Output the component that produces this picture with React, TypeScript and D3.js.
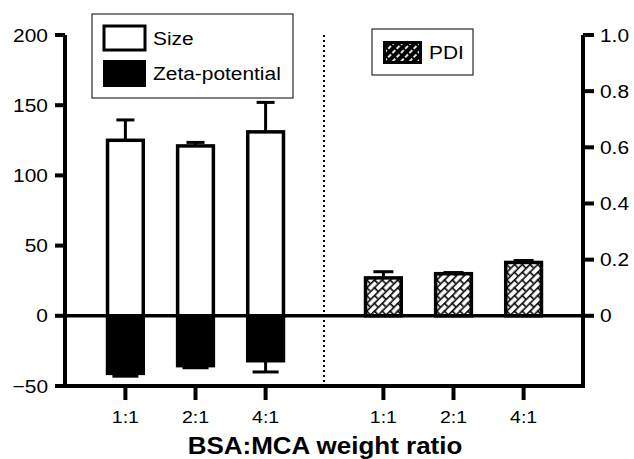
import React from "react";
import * as d3 from "d3";

const categories = ["1:1", "2:1", "4:1"];
const sizeValues = [125, 121, 131];
const sizeErr = [14.5, 2.5, 21];
const zetaValues = [-41, -35.5, -32];
const zetaErr = [2, 1.5, 8];
const pdiValues = [0.135, 0.15, 0.19];
const pdiErr = [0.022, 0.004, 0.007];
const leftTicks = [-50, 0, 50, 100, 150, 200];
const rightTicks = [0, 0.2, 0.4, 0.6, 0.8, 1.0];
const rightTickLabels = ["0", "0.2", "0.4", "0.6", "0.8", "1.0"];
const xTitle = "BSA:MCA weight ratio";

const W = 634, H = 459;
const left = 65, right = 583, top = 35, bottom = 386;
const FONT = "Liberation Sans, Arial, sans-serif";

function Txt(props: { x: number; y: number; size: number; sx?: number; anchor?: string; bold?: boolean; dy?: string; children: React.ReactNode }) {
  const sx = props.sx ?? 1.1;
  return (
    <text
      transform={`translate(${props.x},${props.y}) scale(${sx},1)`}
      textAnchor={props.anchor ?? "start"}
      fontSize={props.size}
      fontWeight={props.bold ? "bold" : "normal"}
      dy={props.dy}
    >
      {props.children}
    </text>
  );
}

export default function App() {
  const yL = d3.scaleLinear().domain([-50, 200]).range([bottom, top]);
  const yR = d3.scaleLinear().domain([0, 1]).range([yL(0), top]);
  const xL = d3.scaleBand().domain(categories).range([90, 301]).paddingInner(0.49).paddingOuter(0.25);
  const xR = d3.scaleBand().domain(categories).range([348, 559]).paddingInner(0.49).paddingOuter(0.25);
  const bw = xL.bandwidth();
  const cx = (s: d3.ScaleBand<string>, c: string) => (s(c) as number) + s.bandwidth() / 2;
  const y0 = yL(0);

  return (
    <svg width={W} height={H} style={{ display: "block", position: "absolute", left: 0, top: 0 }} fontFamily={FONT}>
      <defs>
        <pattern id="brick" patternUnits="userSpaceOnUse" width="11" height="11" patternTransform="rotate(-45)">
          <rect width="11" height="11" fill="white" />
          <line x1="0" y1="0.8" x2="11" y2="0.8" stroke="black" strokeWidth="1.6" />
          <line x1="0" y1="6.3" x2="11" y2="6.3" stroke="black" strokeWidth="1.6" />
          <line x1="0.8" y1="0" x2="0.8" y2="5.5" stroke="black" strokeWidth="1.6" />
          <line x1="6.3" y1="5.5" x2="6.3" y2="11" stroke="black" strokeWidth="1.6" />
        </pattern>
        <pattern id="swatch" patternUnits="userSpaceOnUse" width="6" height="6" patternTransform="rotate(-45)">
          <rect width="6" height="6" fill="black" />
          <line x1="0" y1="3" x2="4" y2="3" stroke="white" strokeWidth="1.8" />
        </pattern>
      </defs>
      <rect width={W} height={H} fill="white" />

      {/* dotted separator */}
      <line x1={324} x2={324} y1={top} y2={bottom} stroke="black" strokeWidth={2} strokeDasharray="2,3" />

      {/* Size bars */}
      {categories.map((c, i) => (
        <g key={"s" + c}>
          <line x1={cx(xL, c)} x2={cx(xL, c)} y1={yL(sizeValues[i])} y2={yL(sizeValues[i] + sizeErr[i])} stroke="black" strokeWidth={3} />
          <line x1={cx(xL, c) - 9} x2={cx(xL, c) + 9} y1={yL(sizeValues[i] + sizeErr[i])} y2={yL(sizeValues[i] + sizeErr[i])} stroke="black" strokeWidth={3} />
          <rect x={xL(c)} y={yL(sizeValues[i])} width={bw} height={y0 - yL(sizeValues[i])} fill="white" stroke="black" strokeWidth={3.5} />
        </g>
      ))}
      {/* Zeta bars */}
      {categories.map((c, i) => (
        <g key={"z" + c}>
          <line x1={cx(xL, c)} x2={cx(xL, c)} y1={yL(zetaValues[i])} y2={yL(zetaValues[i] - zetaErr[i])} stroke="black" strokeWidth={3} />
          <line x1={cx(xL, c) - 13} x2={cx(xL, c) + 13} y1={yL(zetaValues[i] - zetaErr[i])} y2={yL(zetaValues[i] - zetaErr[i])} stroke="black" strokeWidth={3} />
          <rect x={xL(c)} y={y0} width={bw} height={yL(zetaValues[i]) - y0} fill="black" stroke="black" strokeWidth={3.5} />
        </g>
      ))}
      {/* PDI bars */}
      {categories.map((c, i) => (
        <g key={"p" + c}>
          <line x1={cx(xR, c)} x2={cx(xR, c)} y1={yR(pdiValues[i])} y2={yR(pdiValues[i] + pdiErr[i])} stroke="black" strokeWidth={3} />
          <line x1={cx(xR, c) - 10} x2={cx(xR, c) + 10} y1={yR(pdiValues[i] + pdiErr[i])} y2={yR(pdiValues[i] + pdiErr[i])} stroke="black" strokeWidth={3} />
          <rect x={xR(c)} y={yR(pdiValues[i])} width={bw} height={y0 - yR(pdiValues[i])} fill="url(#brick)" stroke="black" strokeWidth={3.5} />
        </g>
      ))}

      {/* zero line */}
      <line x1={left} x2={right} y1={y0} y2={y0} stroke="black" strokeWidth={3.5} />

      {/* axes */}
      <path d={`M${left},${top}V${bottom}H${right}V${top}`} fill="none" stroke="black" strokeWidth={4} strokeLinejoin="miter" />
      {leftTicks.map((t) => (
        <g key={"lt" + t}>
          <line x1={left - 10} x2={left} y1={yL(t)} y2={yL(t)} stroke="black" strokeWidth={4} />
          <Txt x={48} y={yL(t)} dy="0.35em" anchor="end" size={19}>{t < 0 ? "\u2212" + Math.abs(t) : t}</Txt>
        </g>
      ))}
      {rightTicks.map((t, i) => (
        <g key={"rt" + t}>
          <line x1={right} x2={right + 11} y1={yR(t)} y2={yR(t)} stroke="black" strokeWidth={4} />
          <Txt x={600} y={yR(t)} dy="0.35em" size={19}>{rightTickLabels[i]}</Txt>
        </g>
      ))}
      {categories.map((c) => (
        <g key={"xl" + c}>
          <line x1={cx(xL, c)} x2={cx(xL, c)} y1={bottom} y2={bottom + 14} stroke="black" strokeWidth={4} />
          <Txt x={cx(xL, c)} y={423} anchor="middle" size={17} sx={1.15}>{c}</Txt>
        </g>
      ))}
      {categories.map((c) => (
        <g key={"xr" + c}>
          <line x1={cx(xR, c)} x2={cx(xR, c)} y1={bottom} y2={bottom + 14} stroke="black" strokeWidth={4} />
          <Txt x={cx(xR, c)} y={423} anchor="middle" size={17} sx={1.15}>{c}</Txt>
        </g>
      ))}
      <Txt x={325} y={454} anchor="middle" size={23} sx={1.13} bold>{xTitle}</Txt>

      {/* legend 1 */}
      <rect x={92} y={14} width={201} height={84} fill="white" stroke="black" strokeWidth={1} />
      <rect x={104} y={26} width={41} height={24} fill="white" stroke="black" strokeWidth={3} />
      <Txt x={153} y={38} dy="0.35em" size={19}>Size</Txt>
      <rect x={103} y={60} width={43} height={27} fill="black" />
      <Txt x={153} y={73} dy="0.35em" size={19}>Zeta-potential</Txt>

      {/* legend 2 */}
      <rect x={372} y={29} width={101} height={46} fill="white" stroke="black" strokeWidth={1} />
      <rect x={384.5} y={42.5} width={36} height={20} fill="url(#swatch)" stroke="black" strokeWidth={3} />
      <Txt x={429} y={52} dy="0.35em" size={19}>PDI</Txt>
    </svg>
  );
}
